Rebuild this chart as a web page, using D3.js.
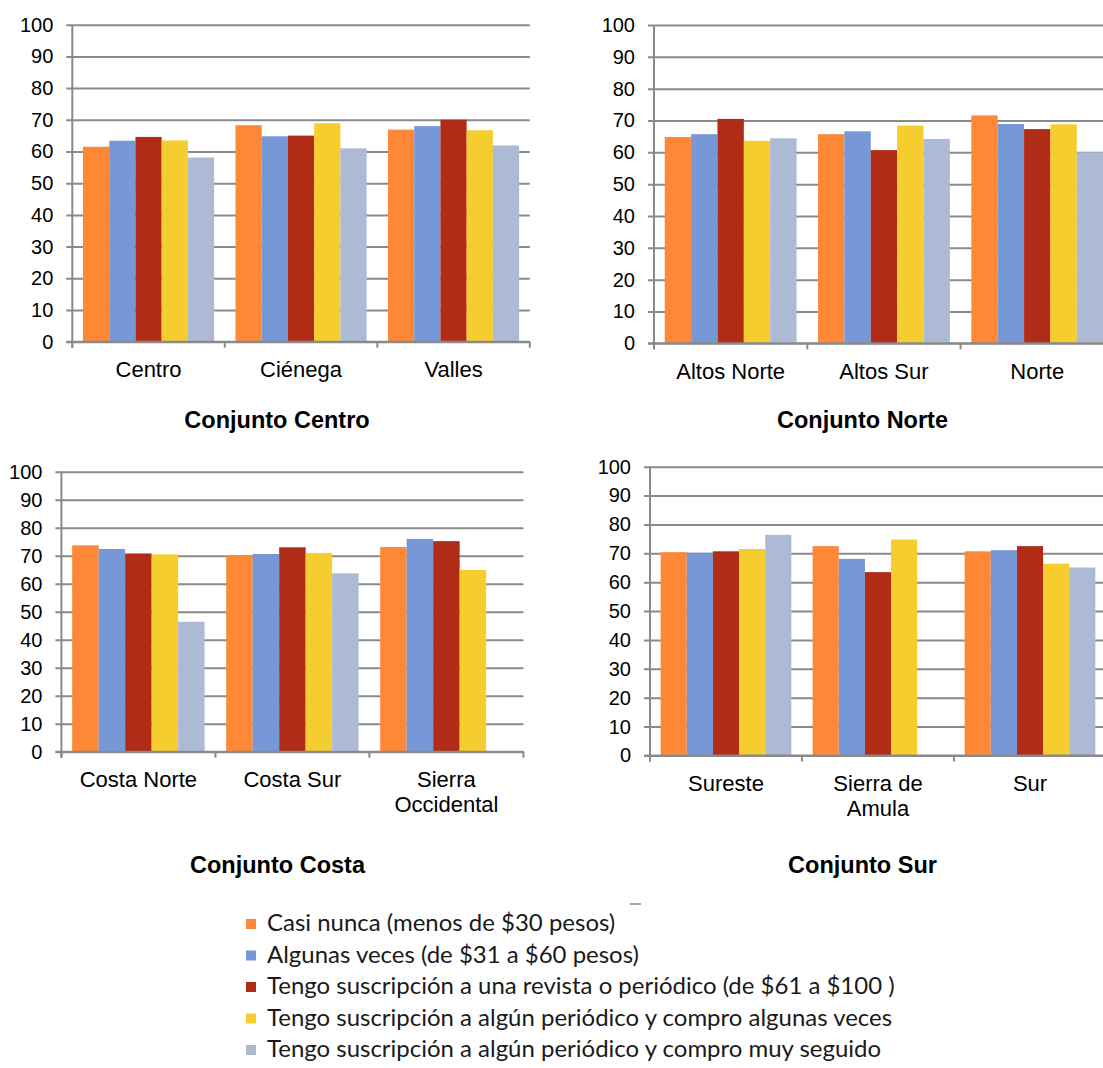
<!DOCTYPE html>
<html>
<head>
<meta charset="utf-8">
<script src="https://cdn.jsdelivr.net/npm/d3@7"></script>
<style>
  html, body { margin: 0; padding: 0; background: #ffffff; }
  svg { display: block; }
</style>
</head>
<body>
<svg id="chart" width="1103" height="1068"></svg>
<script>
// ---------------- DATA ----------------
const seriesNames = [
  "Casi nunca (menos de $30 pesos)",
  "Algunas veces (de $31 a $60 pesos)",
  "Tengo suscripción a una revista o periódico (de $61 a $100 )",
  "Tengo suscripción a algún periódico y compro algunas veces",
  "Tengo suscripción a algún periódico y compro muy seguido"
];
const seriesColors = ["#FF8837", "#7698D6", "#B12C17", "#F5CD2E", "#ADBAD6"];
const yTicks = [0, 10, 20, 30, 40, 50, 60, 70, 80, 90, 100];

const centroTitle = "Conjunto Centro";
const centroCategories = ["Centro", "Ciénega", "Valles"];
const centroValues = [
  [61.5, 63.4, 64.6, 63.5, 58.1],
  [68.3, 64.8, 65.0, 68.9, 61.0],
  [66.9, 68.0, 70.0, 66.7, 61.9]
];

const norteTitle = "Conjunto Norte";
const norteCategories = ["Altos Norte", "Altos Sur", "Norte"];
const norteValues = [
  [64.8, 65.7, 70.5, 63.6, 64.4],
  [65.7, 66.6, 60.7, 68.4, 64.2],
  [71.6, 68.9, 67.3, 68.8, 60.0]
];

const costaTitle = "Conjunto Costa";
const costaCategories = ["Costa Norte", "Costa Sur", "Sierra Occidental"];
const costaValues = [
  [73.7, 72.4, 70.8, 70.5, 46.4],
  [70.1, 70.6, 73.0, 71.0, 63.7],
  [73.1, 76.0, 75.2, 64.9, null]
];

const surTitle = "Conjunto Sur";
const surCategories = ["Sureste", "Sierra de Amula", "Sur"];
const surValues = [
  [70.4, 70.2, 70.7, 71.5, 76.4],
  [72.5, 68.1, 63.5, 74.8, null],
  [70.7, 71.1, 72.5, 66.4, 65.1]
];

// ---------------- LAYOUT ----------------
const panels = [
  { title: centroTitle, cats: centroCategories, vals: centroValues,
    x0: 72.3, catW: 152.5, yBase: 341.7, yTop: 24.7, titleX: 277, titleY: 427.5 },
  { title: norteTitle, cats: norteCategories, vals: norteValues,
    x0: 654, catW: 153.3, yBase: 343.3, yTop: 25, titleX: 862.5, titleY: 427.5 },
  { title: costaTitle, cats: costaCategories, vals: costaValues,
    x0: 61.4, catW: 154, yBase: 751.7, yTop: 471.7, titleX: 277.5, titleY: 873 },
  { title: surTitle, cats: surCategories, vals: surValues,
    x0: 650, catW: 152, yBase: 755.5, yTop: 466.7, titleX: 862.5, titleY: 873 }
];

const AXIS_FONT = "'Liberation Sans', Arial, Helvetica, sans-serif";
const gridColor = "#8A8A8A";

const svg = d3.select("#chart");

function wrapText(textSel, words, maxW, lineH) {
  let line = [];
  let tspan = textSel.append("tspan").attr("x", textSel.attr("x")).attr("dy", 0);
  let lineNo = 0;
  words.forEach(w => {
    line.push(w);
    tspan.text(line.join(" "));
    if (tspan.node().getComputedTextLength() > maxW && line.length > 1) {
      line.pop();
      tspan.text(line.join(" "));
      line = [w];
      lineNo++;
      tspan = textSel.append("tspan").attr("x", textSel.attr("x")).attr("dy", lineH).text(w);
    }
  });
}

panels.forEach(p => {
  const g = svg.append("g");
  const xEnd = p.x0 + p.cats.length * p.catW;
  const x = d3.scaleBand().domain(p.cats).range([p.x0, xEnd]).padding(0);
  const xs = d3.scaleBand().domain(d3.range(seriesNames.length))
    .range([p.catW * 0.07, p.catW * 0.93]).padding(0);
  const y = d3.scaleLinear().domain([0, 100]).range([p.yBase, p.yTop]);

  // gridlines + left ticks via axis
  const yGrid = d3.axisLeft(y).tickValues(yTicks)
    .tickSize(-(xEnd - p.x0) - 6).tickSizeOuter(0).tickFormat("");
  const gg = g.append("g").attr("transform", `translate(${p.x0 - 6},0)`).call(yGrid);
  gg.select(".domain").remove();
  gg.selectAll(".tick line").attr("x1", 0).attr("x2", xEnd - p.x0 + 6)
    .attr("stroke", gridColor).attr("stroke-width", 2);

  // tick labels
  const yAxis = d3.axisLeft(y).tickValues(yTicks).tickSize(0).tickPadding(19).tickFormat(d3.format("d"));
  const ga = g.append("g").attr("transform", `translate(${p.x0},0)`).call(yAxis);
  ga.select(".domain").remove();
  ga.selectAll("text").attr("font-family", AXIS_FONT).attr("font-size", 20).attr("fill", "#000");

  // bars
  p.cats.forEach((c, ci) => {
    p.vals[ci].forEach((v, si) => {
      if (v == null) return;
      g.append("rect")
        .attr("x", x(c) + xs(si))
        .attr("y", y(v))
        .attr("width", xs.bandwidth())
        .attr("height", y(0) - y(v))
        .attr("fill", seriesColors[si]);
    });
  });

  // y axis line
  g.append("line").attr("x1", p.x0).attr("x2", p.x0)
    .attr("y1", y(100)).attr("y2", y(0) + 6)
    .attr("stroke", gridColor).attr("stroke-width", 2);
  // x axis line
  g.append("line").attr("x1", p.x0 - 6).attr("x2", xEnd)
    .attr("y1", y(0)).attr("y2", y(0))
    .attr("stroke", gridColor).attr("stroke-width", 2);
  // category boundary ticks
  const bounds = p.cats.map(c => x(c)).concat([xEnd]);
  bounds.forEach(bx => {
    g.append("line").attr("x1", bx).attr("x2", bx)
      .attr("y1", y(0)).attr("y2", y(0) + 6)
      .attr("stroke", gridColor).attr("stroke-width", 2);
  });

  // category labels
  p.cats.forEach(c => {
    const t = g.append("text")
      .attr("x", x(c) + x.bandwidth() / 2)
      .attr("y", y(0) + 35.5)
      .attr("text-anchor", "middle")
      .attr("font-family", AXIS_FONT)
      .attr("font-size", 22)
      .attr("fill", "#000");
    wrapText(t, c.split(" "), p.catW - 10, 25);
  });

  // title
  g.append("text")
    .attr("x", p.titleX).attr("y", p.titleY)
    .attr("text-anchor", "middle")
    .attr("font-family", AXIS_FONT)
    .attr("font-weight", "bold")
    .attr("font-size", 23.5)
    .attr("fill", "#000")
    .text(p.title);
});

// ---------------- LEGEND ----------------
const lg = svg.append("g");
const legendFont = "Lato, 'Open Sans', Calibri, sans-serif";
const legendTop = 919, legendStep = 31.5;
// small dash mark above legend
lg.append("line").attr("x1", 630).attr("x2", 641).attr("y1", 904).attr("y2", 904)
  .attr("stroke", "#8a8a8a").attr("stroke-width", 1.5);

const items = lg.selectAll("g.item").data(seriesNames).join("g").attr("class", "item")
  .attr("transform", (d, i) => `translate(246,${legendTop + i * legendStep})`);
items.append("rect").attr("width", 10).attr("height", 10)
  .attr("fill", (d, i) => seriesColors[i]);
const labels = items.append("text").attr("x", 21).attr("y", 12)
  .attr("font-family", legendFont).attr("font-size", 20).attr("fill", "#1a1a1a")
  .text(d => d);
// fit font size so that the longest entry spans the measured width
const longest = d3.max(labels.nodes(), n => n.getComputedTextLength());
const fitSize = 20 * 628 / longest;
labels.attr("font-size", fitSize);
</script>
</body>
</html>
